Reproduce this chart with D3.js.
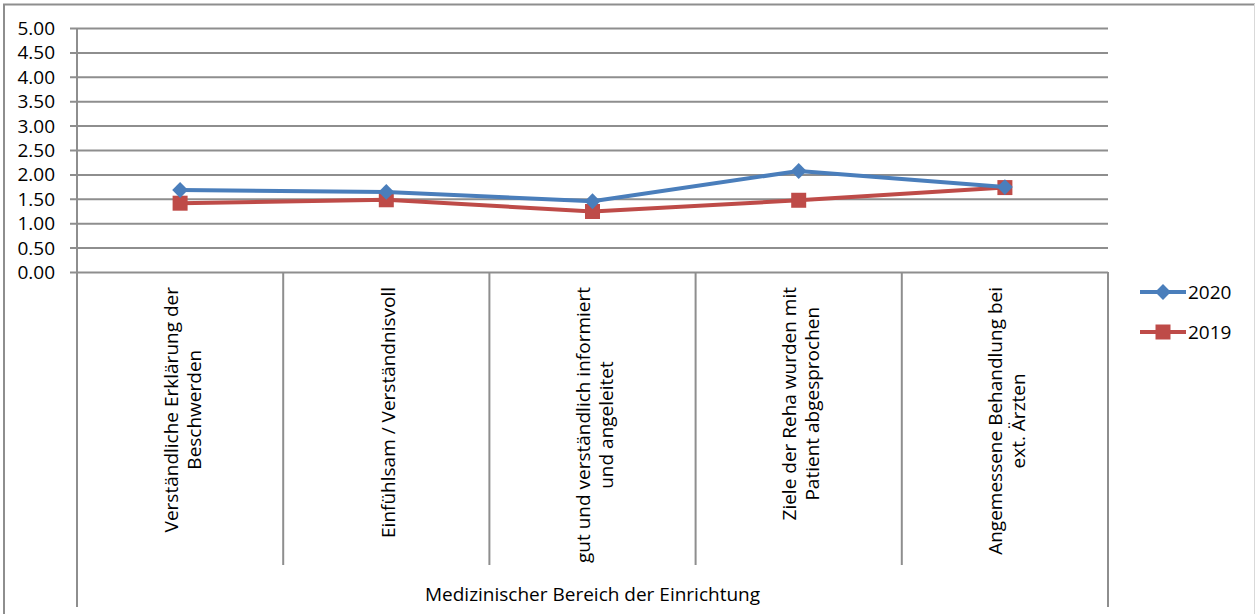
<!DOCTYPE html>
<html>
<head>
<meta charset="utf-8">
<script src="https://cdn.jsdelivr.net/npm/d3@7"></script>
<style>
  html, body { margin: 0; padding: 0; background: #fff; }
  svg { display: block; }
  text { font-family: "Open Sans", "Noto Sans", sans-serif; fill: #000; }
</style>
</head>
<body>
<svg id="chart" width="1255" height="614"></svg>
<script>
// Category labels (each entry: lines of the wrapped label)
const categories = [
  ["Verständliche Erklärung der", "Beschwerden"],
  ["Einfühlsam / Verständnisvoll"],
  ["gut und verständlich informiert", "und angeleitet"],
  ["Ziele der Reha wurden mit", "Patient abgesprochen"],
  ["Angemessene Behandlung bei", "ext. Ärzten"]
];
const groupLabel = "Medizinischer Bereich der Einrichtung";

const seriesNames = ["2020", "2019"];
const values2020 = [1.68, 1.64, 1.45, 2.07, 1.74];
const values2019 = [1.41, 1.48, 1.24, 1.47, 1.73];

const yTicks = [0, 0.5, 1, 1.5, 2, 2.5, 3, 3.5, 4, 4.5, 5];

const colors = { "2020": "#4a7ebb", "2019": "#be4b48" };
const gridColor = "#8e8e8e";
const fontSize = 19;

const svg = d3.select("#chart");

// outer frame
svg.append("path")
  .attr("d", "M4,614 V4.5 H1255")
  .attr("fill", "none").attr("stroke", "#8e8e8e").attr("stroke-width", 2);
svg.append("line")
  .attr("x1", 1254.5).attr("x2", 1254.5).attr("y1", 4).attr("y2", 614)
  .attr("stroke", "#d9d9d9").attr("stroke-width", 1);

const plot = { left: 77, right: 1108, top: 28, bottom: 272 };

const x = d3.scaleBand()
  .domain(d3.range(categories.length))
  .range([plot.left, plot.right])
  .paddingInner(0).paddingOuter(0);

const y = d3.scaleLinear().domain([0, 5]).range([plot.bottom, plot.top]);

// horizontal gridlines + y axis
const yAxis = d3.axisLeft(y)
  .tickValues(yTicks)
  .tickFormat(d3.format(".2f"))
  .tickSize(-(plot.right - plot.left));

const yg = svg.append("g")
  .attr("transform", `translate(${plot.left},0)`)
  .call(yAxis);
yg.attr("font-size", null).attr("font-family", null);
yg.select(".domain").remove();
yg.selectAll(".tick line")
  .attr("x1", -7)
  .attr("stroke", gridColor).attr("stroke-width", 2);
yg.selectAll(".tick text")
  .attr("font-size", fontSize)
  .attr("x", -22)
  .attr("dy", "0.34em");

// y axis line
svg.append("line")
  .attr("x1", plot.left).attr("x2", plot.left)
  .attr("y1", plot.top).attr("y2", plot.bottom)
  .attr("stroke", gridColor).attr("stroke-width", 2);

// category separators below the axis
const bounds = d3.range(categories.length + 1).map(i =>
  i < categories.length ? x(i) : x(categories.length - 1) + x.bandwidth());
svg.append("g").selectAll("line")
  .data(bounds)
  .join("line")
  .attr("x1", d => d).attr("x2", d => d)
  .attr("y1", plot.bottom)
  .attr("y2", (d, i) => (i === 0 || i === bounds.length - 1) ? 607 : 565)
  .attr("stroke", gridColor).attr("stroke-width", 2);

// category labels, rotated, top-aligned under the axis
const lineGap = 23;
const labelTop = 287;
const lblG = svg.append("g");
categories.forEach((lines, i) => {
  const cx = x(i) + x.bandwidth() / 2 + 2;
  // measure widest line
  const tmp = lblG.append("text").attr("font-size", fontSize);
  let maxW = 0;
  lines.forEach(l => { tmp.text(l); maxW = Math.max(maxW, tmp.node().getComputedTextLength()); });
  tmp.remove();
  const cy = labelTop + maxW / 2;
  const n = lines.length;
  lines.forEach((l, j) => {
    const off = (j - (n - 1) / 2) * lineGap;
    lblG.append("text")
      .attr("font-size", fontSize)
      .attr("text-anchor", "middle")
      .attr("dominant-baseline", "central")
      .attr("transform", `translate(${cx + off},${cy}) rotate(-90)`)
      .text(l);
  });
});

// group label
svg.append("text")
  .attr("x", (plot.left + plot.right) / 2)
  .attr("y", 594)
  .attr("text-anchor", "middle")
  .attr("dominant-baseline", "central")
  .attr("font-size", fontSize)
  .text(groupLabel);

// series lines and markers (diamond = square turned by 45°)
const series = [
  { name: "2020", values: values2020, marker: d3.symbolSquare, size: 125, rot: 45 },
  { name: "2019", values: values2019, marker: d3.symbolSquare, size: 225, rot: 0 }
];
const line = d3.line()
  .x((d, i) => x(i) + x.bandwidth() / 2)
  .y(d => y(d));

// draw 2019 first so 2020 sits on top
series.slice().reverse().forEach(s => {
  const g = svg.append("g");
  g.append("path")
    .datum(s.values)
    .attr("d", line)
    .attr("fill", "none")
    .attr("stroke", colors[s.name])
    .attr("stroke-width", 4)
    .attr("stroke-linejoin", "round");
  g.selectAll("path.m")
    .data(s.values)
    .join("path")
    .attr("class", "m")
    .attr("d", d3.symbol().type(s.marker).size(s.size))
    .attr("transform", (d, i) => `translate(${x(i) + x.bandwidth() / 2},${y(d)}) rotate(${s.rot})`)
    .attr("fill", colors[s.name]);
});

// legend
const legend = svg.append("g");
series.forEach((s, i) => {
  const ly = 292 + i * 40;
  legend.append("line")
    .attr("x1", 1140).attr("x2", 1186).attr("y1", ly).attr("y2", ly)
    .attr("stroke", colors[s.name]).attr("stroke-width", 4);
  legend.append("path")
    .attr("d", d3.symbol().type(s.marker).size(s.size))
    .attr("transform", `translate(1163,${ly}) rotate(${s.rot})`)
    .attr("fill", colors[s.name]);
  legend.append("text")
    .attr("x", 1188).attr("y", ly)
    .attr("dominant-baseline", "central")
    .attr("font-size", fontSize)
    .text(s.name);
});
</script>
</body>
</html>
